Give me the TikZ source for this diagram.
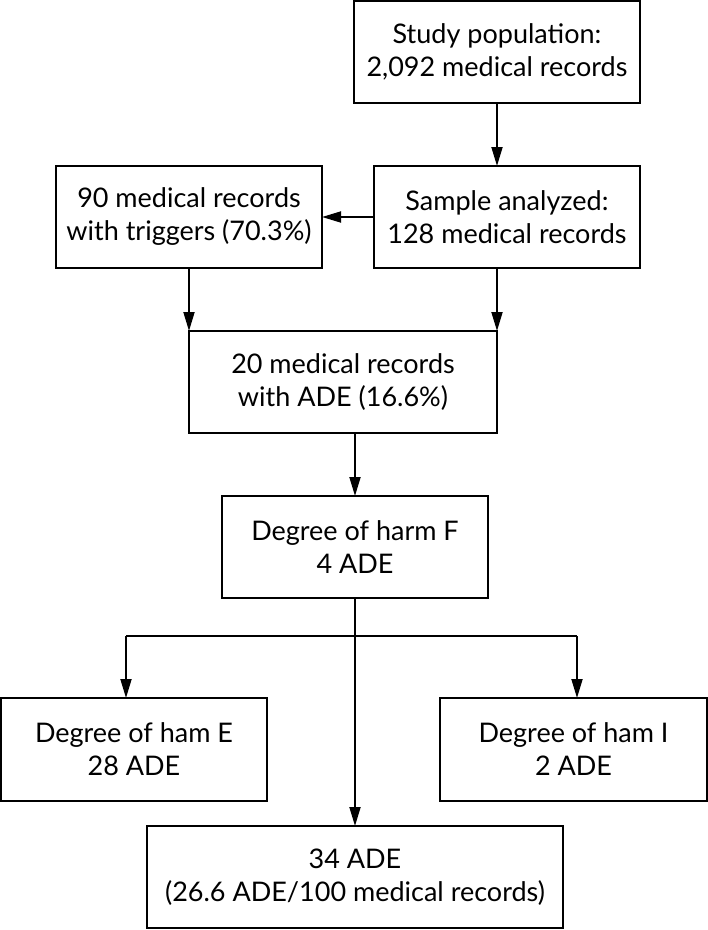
\documentclass[tikz,border=0pt]{standalone}
\usepackage{fontspec}
\setmainfont{Lato}
\usetikzlibrary{arrows.meta}

\tikzset{
    box/.style={draw, line width=1.8pt, align=center, inner sep=0pt, outer sep=0pt,
                font=\fontsize{27}{33}\selectfont},
    arr/.style={line width=1.8pt, -{Triangle[length=19pt,width=11pt]}}
}

\begin{document}
\begin{tikzpicture}[x=1pt, y=-1pt]
    \useasboundingbox (0,0) rectangle (708,930);

    % Define the boxes of the flow chart
    \node[box, minimum width=286pt, minimum height=102pt] (study) at (497,52)
        {Study population:\\2,092 medical records};
    \node[box, minimum width=266pt, minimum height=102pt] (sample) at (507,217)
        {Sample analyzed:\\128 medical records};
    \node[box, minimum width=266pt, minimum height=102pt] (trig) at (189,217)
        {90 medical records\\with triggers (70.3\%)};
    \node[box, minimum width=308pt, minimum height=102pt] (ade) at (343,382)
        {20 medical records\\with ADE (16.6\%)};
    \node[box, minimum width=266pt, minimum height=102pt] (harmF) at (355,547)
        {Degree of harm F\\4 ADE};
    \node[box, minimum width=266pt, minimum height=103pt] (hamE) at (134,749.5)
        {Degree of ham E\\28 ADE};
    \node[box, minimum width=267pt, minimum height=103pt] (hamI) at (573.5,749.5)
        {Degree of ham I\\2 ADE};
    \node[box, minimum width=416pt, minimum height=102pt] (total) at (355,877)
        {34 ADE\\(26.6 ADE/100 medical records)};

    % Fork below the degree F box
    \coordinate (forkL) at (126,636);
    \coordinate (forkR) at (577,636);

    % Draw the connectors
    \draw[arr] (study.south) -- (study.south |- sample.north);
    \draw[arr] (sample.west) -- (trig.east);
    \draw[arr] (trig.south) -- (ade.north west);
    \draw[arr] (ade.north east |- sample.south) -- (ade.north east);
    \draw[arr] (harmF.north |- ade.south) -- (harmF.north);
    \draw[arr] (harmF.south) -- (total.north);
    \draw[line width=1.8pt] (forkL) -- (forkR);
    \draw[arr] (forkL) -- (forkL |- hamE.north);
    \draw[arr] (forkR) -- (forkR |- hamI.north);
\end{tikzpicture}
\end{document}
